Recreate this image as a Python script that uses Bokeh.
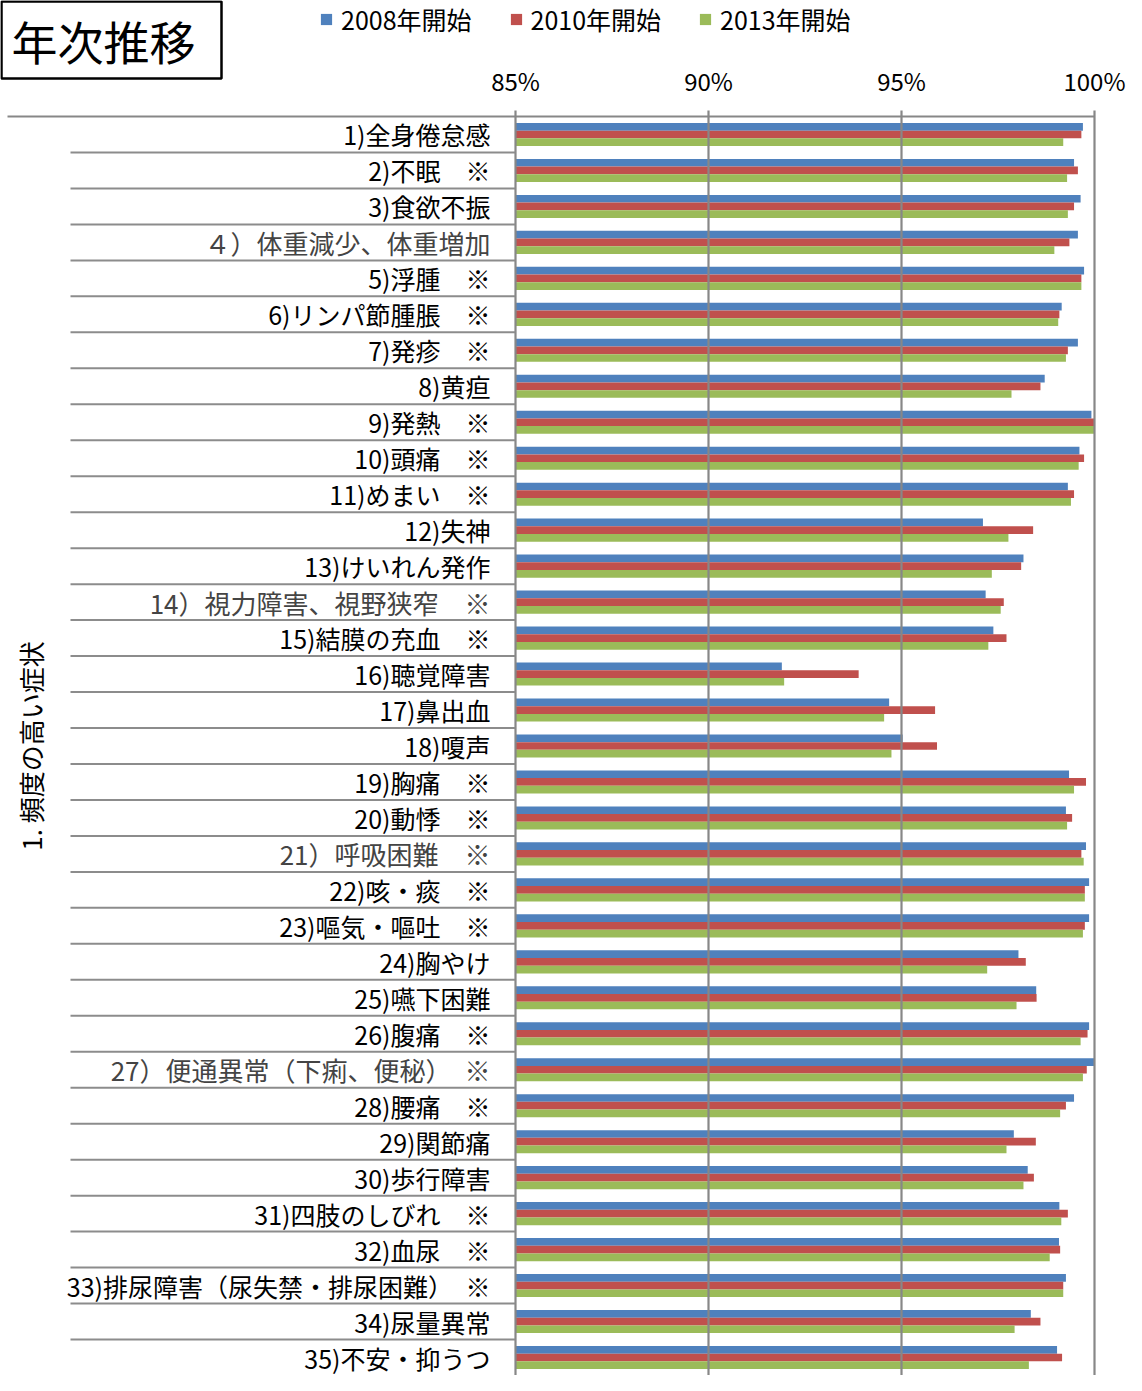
from bokeh.plotting import figure
from bokeh.models import Range1d, Legend, LegendItem, ColumnDataSource
from bokeh.core.properties import value
from bokeh.embed import file_html
from bokeh.resources import INLINE
import math

# ---------------- data ----------------
categories = [
    "1)全身倦怠感", "2)不眠　※", "3)食欲不振", "４）体重減少、体重増加",
    "5)浮腫　※", "6)リンパ節腫脹　※", "7)発疹　※", "8)黄疸", "9)発熱　※",
    "10)頭痛　※", "11)めまい　※", "12)失神", "13)けいれん発作",
    "14）視力障害、視野狭窄　※", "15)結膜の充血　※", "16)聴覚障害", "17)鼻出血",
    "18)嗄声", "19)胸痛　※", "20)動悸　※", "21）呼吸困難　※", "22)咳・痰　※",
    "23)嘔気・嘔吐　※", "24)胸やけ", "25)嚥下困難", "26)腹痛　※",
    "27）便通異常（下痢、便秘）　※", "28)腰痛　※", "29)関節痛", "30)歩行障害",
    "31)四肢のしびれ　※", "32)血尿　※", "33)排尿障害（尿失禁・排尿困難）　※",
    "34)尿量異常", "35)不安・抑うつ",
]
series_names = ["2008年開始", "2010年開始", "2013年開始"]
v2008 = [99.70, 99.47, 99.64, 99.57, 99.73, 99.15, 99.57, 98.71, 99.92, 99.61,
         99.31, 97.11, 98.16, 97.18, 97.38, 91.90, 94.68, 95.03, 99.34, 99.26,
         99.78, 99.86, 99.86, 98.03, 98.49, 99.86, 100.0, 99.47, 97.91, 98.27,
         99.09, 99.08, 99.26, 98.35, 99.03]
v2010 = [99.66, 99.57, 99.47, 99.35, 99.66, 99.09, 99.31, 98.60, 100.0, 99.73,
         99.47, 98.41, 98.10, 97.65, 97.72, 93.89, 95.87, 95.92, 99.78, 99.42,
         99.66, 99.75, 99.75, 98.22, 98.50, 99.82, 99.80, 99.26, 98.48, 98.43,
         99.31, 99.11, 99.19, 98.60, 99.16]
v2013 = [99.19, 99.29, 99.31, 98.96, 99.66, 99.06, 99.26, 97.85, 100.0, 99.59,
         99.39, 97.77, 97.34, 97.57, 97.25, 91.96, 94.55, 94.74, 99.47, 99.29,
         99.72, 99.75, 99.70, 97.22, 97.98, 99.64, 99.70, 99.11, 97.72, 98.16,
         99.14, 98.84, 99.19, 97.93, 98.30]
tick_values = [85, 90, 95, 100]
tick_labels = ["85%", "90%", "95%", "100%"]
group_label = "1. 頻度の高い症状"
chart_title = "年次推移"
serif_rows = [3, 13, 20, 26]   # labels drawn in the thin (Mincho-like) style

# ---------------- layout helpers ----------------
W, H = 1126, 1375
PX_LEFT, PX_RIGHT = 515, 1094    # pixel positions of 85% and 100%
PXX = 15.0 / (PX_RIGHT - PX_LEFT)
X0 = 85 - PX_LEFT * PXX
X1 = X0 + W * PXX
TOPPX = 116                      # pixel of first row top
RH = (H - TOPPX) / 35.0          # pixels per row
def dx(px):
    return X0 + px * PXX
def dy(py):
    return (py - TOPPX) / RH

n = len(categories)
BH = 7.7 / RH
FONT = value("Noto Sans CJK JP")
COLORS = ["#4F81BD", "#C0504D", "#9BBB59"]

p = figure(width=W, height=H, x_range=Range1d(X0, X1), y_range=Range1d(n, dy(0)),
           output_backend="svg", toolbar_location=None,
           x_axis_location=None, y_axis_location=None, min_border=0,
           outline_line_color=None, background_fill_color="white",
           border_fill_color="white")
p.grid.visible = False

# bars
renderers = []
for k, (vals, col) in enumerate(zip([v2008, v2010, v2013], COLORS)):
    ys = [i + 0.5 + (k - 1) * BH for i in range(n)]
    src = ColumnDataSource(dict(y=ys, right=vals, left=[tick_values[0]] * n))
    r = p.hbar(y="y", left="left", right="right", height=BH, source=src,
               fill_color=col, line_color=None)
    renderers.append(r)

# gridlines / axis line (drawn on top of bars)
p.segment(x0=tick_values, x1=tick_values, y0=[dy(TOPPX - 6)] * 4, y1=[n] * 4,
          line_color="#878787", line_width=2.2)
# top line of the chart
p.segment(x0=[dx(7)], x1=[tick_values[-1]], y0=[0], y1=[0],
          line_color="#878787", line_width=2)
# category separators in the label area
seps = list(range(1, n))
p.segment(x0=[dx(70)] * len(seps), x1=[tick_values[0]] * len(seps),
          y0=seps, y1=seps, line_color="#8c8c8c", line_width=2)

# category labels
ys_lab = [i + 0.5 for i in range(n)]
sans_idx = [i for i in range(n) if i not in serif_rows]
src_sans = ColumnDataSource(dict(x=[tick_values[0]] * len(sans_idx),
                                 y=[ys_lab[i] for i in sans_idx],
                                 t=[categories[i] for i in sans_idx]))
src_serif = ColumnDataSource(dict(x=[tick_values[0]] * len(serif_rows),
                                  y=[ys_lab[i] for i in serif_rows],
                                  t=[categories[i] for i in serif_rows]))
p.text(x="x", y="y", text="t", source=src_sans, x_offset=-25, text_align="right",
       text_baseline="middle", text_font=FONT, text_font_size="25px",
       text_color="black")
p.text(x="x", y="y", text="t", source=src_serif, x_offset=-25, text_align="right",
       text_baseline="middle", text_font=FONT, text_font_size="26px",
       text_color="#444444")

# tick labels (top)
p.text(x=tick_values, y=[dy(80)] * 4, text=tick_labels, text_align="center",
       text_baseline="middle", text_font=FONT, text_font_size="24px",
       text_color="black")

# group label (vertical)
p.text(x=[dx(30)], y=[n / 2.0], text=[group_label], angle=math.pi / 2,
       text_align="center", text_baseline="middle", text_font=FONT,
       text_font_size="26px", text_color="black")

# title box
p.quad(left=[dx(1)], right=[dx(221)], top=[dy(1)], bottom=[dy(78)],
       fill_color=None, line_color="black", line_width=2.5)
p.text(x=[dx(103)], y=[dy(39)], text=[chart_title], text_align="center",
       text_baseline="middle", text_font=FONT, text_font_size="46px",
       text_color="black")

# legend
legend = Legend(items=[LegendItem(label=nm, renderers=[r])
                       for nm, r in zip(series_names, renderers)],
                orientation="horizontal", location=(319, H - 37),
                padding=0, margin=0, spacing=37, label_standoff=8,
                glyph_width=14, glyph_height=14, border_line_color=None,
                background_fill_alpha=0, label_text_font="Noto Sans CJK JP",
                label_text_font_size="25px", label_text_color="black",
                label_height=30)
p.add_layout(legend)

open("out.html", "w").write(file_html(p, INLINE))
